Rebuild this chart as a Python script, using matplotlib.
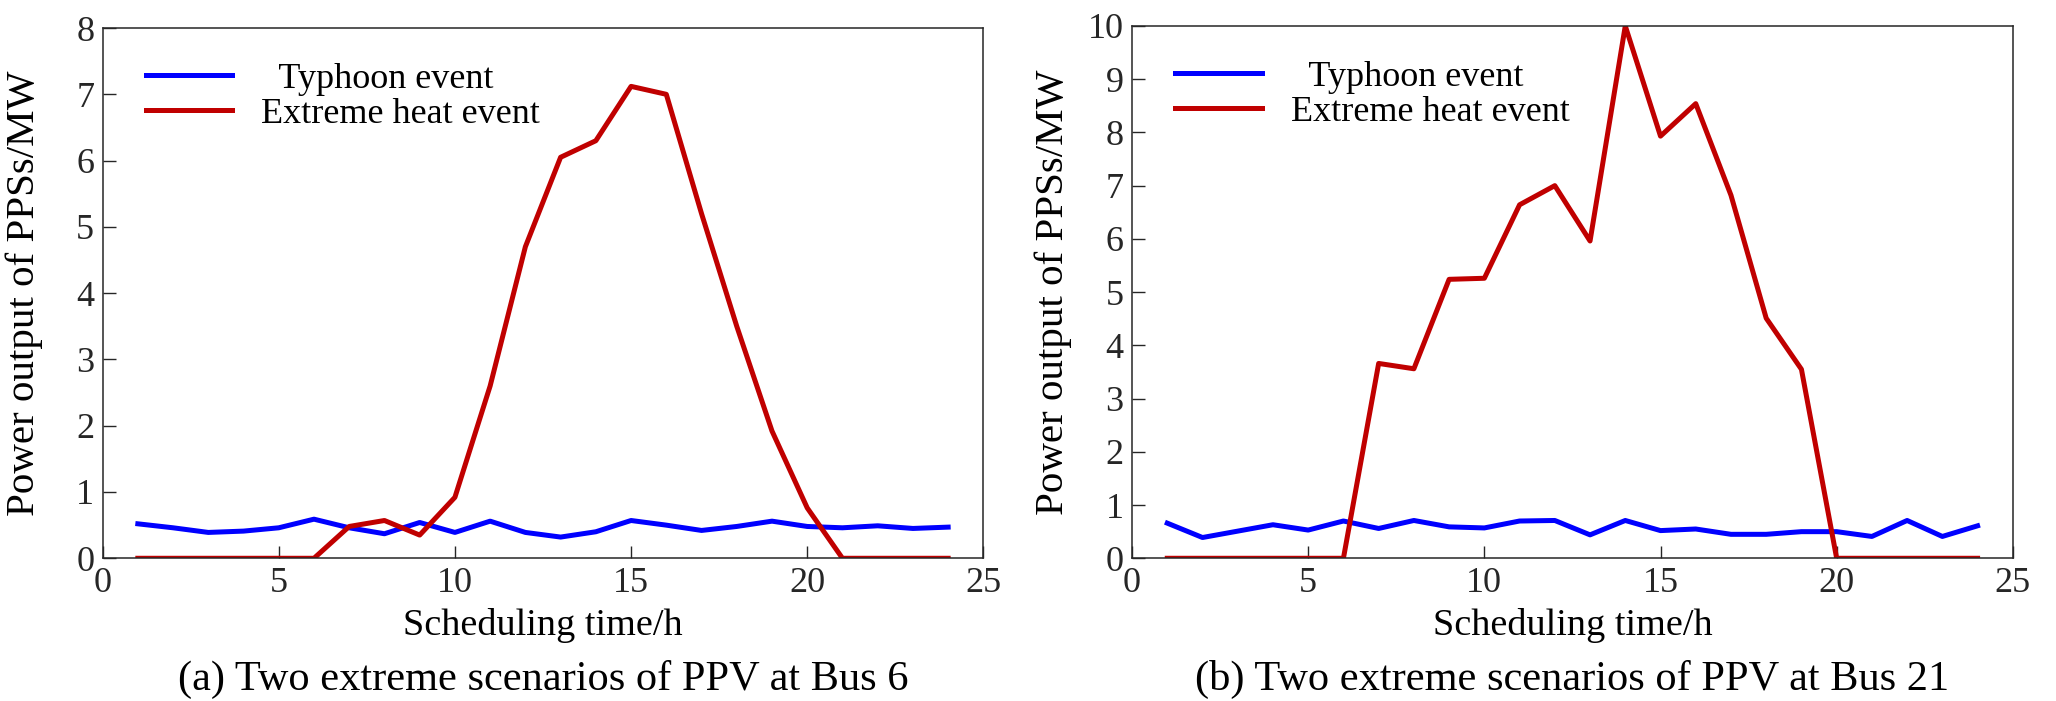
import numpy as np
import matplotlib
matplotlib.use("Agg")
import matplotlib.pyplot as plt

plt.rcParams['font.family'] = ['Liberation Serif', 'DejaVu Serif']

# scheduling hours
hours = list(range(1, 25))

# (a) Bus 6
typhoon_bus6 = [0.52, 0.46, 0.39, 0.41, 0.46, 0.59, 0.46, 0.37, 0.54, 0.39, 0.56, 0.39,
                0.32, 0.40, 0.57, 0.50, 0.42, 0.48, 0.56, 0.48, 0.46, 0.49, 0.45, 0.47]
heat_bus6 = [0, 0, 0, 0, 0, 0, 0.48, 0.57, 0.35, 0.92, 2.6, 4.7,
             6.05, 6.3, 7.12, 7.0, 5.2, 3.5, 1.92, 0.76, 0, 0, 0, 0]

# (b) Bus 21
typhoon_bus21 = [0.66, 0.39, 0.51, 0.63, 0.53, 0.70, 0.56, 0.71, 0.59, 0.57, 0.70, 0.71,
                 0.44, 0.71, 0.52, 0.55, 0.45, 0.45, 0.50, 0.50, 0.41, 0.71, 0.41, 0.61]
heat_bus21 = [0, 0, 0, 0, 0, 0, 3.66, 3.56, 5.24, 5.26, 6.64, 7.0,
              5.96, 10.0, 7.93, 8.54, 6.82, 4.51, 3.55, 0, 0, 0, 0, 0]

ymax = [8, 10]
captions = ["(a) Two extreme scenarios of PPV at Bus 6",
            "(b) Two extreme scenarios of PPV at Bus 21"]
leg_labels = ["  Typhoon event", "Extreme heat event"]

blue = '#0000FF'
red = '#C00000'
spine_col = '#262626'

fig = plt.figure(figsize=(20.56, 7.01), dpi=100)
ax1 = fig.add_axes([0.0499, 0.2036, 0.4284, 0.7564])
ax2 = fig.add_axes([0.5506, 0.2036, 0.4284, 0.7594])

for ax, ty, hh, ym, cap in [(ax1, typhoon_bus6, heat_bus6, ymax[0], captions[0]),
                            (ax2, typhoon_bus21, heat_bus21, ymax[1], captions[1])]:
    ax.plot(hours, ty, color=blue, lw=3.6, label=leg_labels[0])
    ax.plot(hours, hh, color=red, lw=3.6, label=leg_labels[1])
    ax.set_xlim(0, 25)
    ax.set_ylim(0, ym)
    ax.set_xticks(np.arange(0, 26, 5))
    ax.set_yticks(np.arange(0, ym + 1, 1))
    ax.tick_params(direction='in', length=9, width=1, colors=spine_col,
                   labelsize=26, pad=6, labelcolor='#262626')
    for s in ax.spines.values():
        s.set_color(spine_col)
        s.set_linewidth(1.1)
    ax.set_xlabel("Scheduling time/h", fontsize=27.5)
    ax.xaxis.set_label_coords(0.5, -0.094)
    ax.set_ylabel("Power output of PPSs/MW", fontsize=29.5)
    ax.yaxis.set_label_coords(-0.068, 0.5)
    ax.text(0.5, -0.228, cap, transform=ax.transAxes, ha='center', va='center', fontsize=30.5)
    ax.legend(loc='upper left', bbox_to_anchor=(0.049, 0.935), frameon=False,
              fontsize=26, handlelength=2.4, handletextpad=0.8, labelspacing=0.05,
              borderpad=0, borderaxespad=0)

fig.savefig("out.png", dpi=100)
